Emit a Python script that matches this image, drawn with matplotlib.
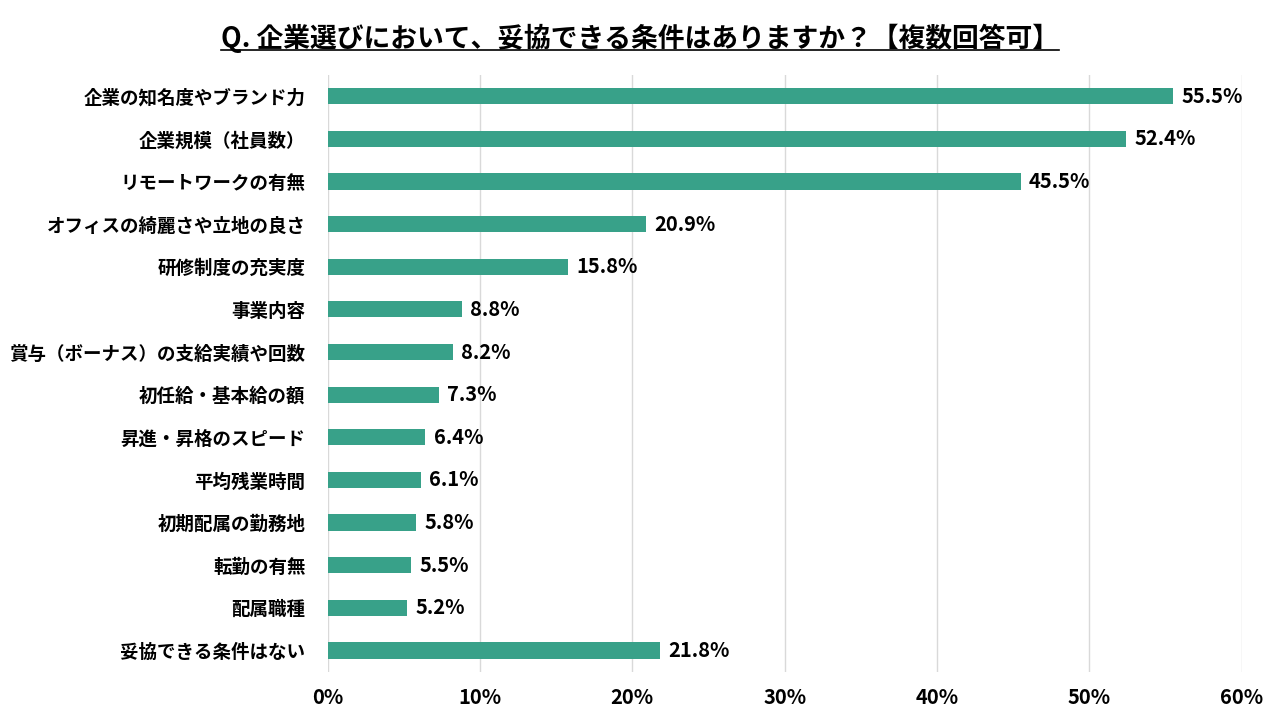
import matplotlib
matplotlib.use("Agg")
import matplotlib.pyplot as plt
from matplotlib.lines import Line2D

plt.rcParams['font.family'] = ['Noto Sans CJK JP', 'DejaVu Sans']

# data
categories = ['企業の知名度やブランド力', '企業規模（社員数）', 'リモートワークの有無',
              'オフィスの綺麗さや立地の良さ', '研修制度の充実度', '事業内容',
              '賞与（ボーナス）の支給実績や回数', '初任給・基本給の額', '昇進・昇格のスピード',
              '平均残業時間', '初期配属の勤務地', '転勤の有無', '配属職種', '妥協できる条件はない']
values = [55.5, 52.4, 45.5, 20.9, 15.8, 8.8, 8.2, 7.3, 6.4, 6.1, 5.8, 5.5, 5.2, 21.8]
xticks = [0, 10, 20, 30, 40, 50, 60]
title = 'Q. 企業選びにおいて、妥協できる条件はありますか？【複数回答可】'

color = '#38a189'

fig = plt.figure(figsize=(12.8, 7.2), dpi=100)
ax = fig.add_axes([0.256, 0.067, 0.714, 0.829])

ypos = list(range(len(categories)))
ax.barh(ypos, values, height=0.38, color=color, zorder=3)
for y, v in zip(ypos, values):
    ax.text(v + 0.55, y, f'{v:.1f}%', va='center', ha='left',
            fontsize=14.5, fontweight='bold', color='black')

ax.set_ylim(len(categories) - 0.5, -0.5)
ax.set_xlim(0, 60)
ax.set_yticks(ypos)
ax.set_yticklabels(categories, fontsize=13.3, fontweight='bold')
ax.set_xticks(xticks)
ax.set_xticklabels([f'{t}%' for t in xticks], fontsize=14.5, fontweight='bold')
ax.tick_params(axis='both', length=0)
ax.tick_params(axis='x', pad=11)
ax.tick_params(axis='y', pad=16)
for s in ax.spines.values():
    s.set_visible(False)
ax.grid(axis='x', color='#d9d9d9', linewidth=1, zorder=0)

t = fig.text(0.5, 0.947, title, ha='center', va='center', fontsize=19.3, fontweight='bold')

# underline under the title
fig.canvas.draw()
bb = t.get_window_extent().transformed(fig.transFigure.inverted())
fig.add_artist(Line2D([bb.x0, bb.x1], [bb.y0 + 0.004, bb.y0 + 0.004],
                      transform=fig.transFigure, color='black', linewidth=1.2))

fig.savefig('out.png', dpi=100)
